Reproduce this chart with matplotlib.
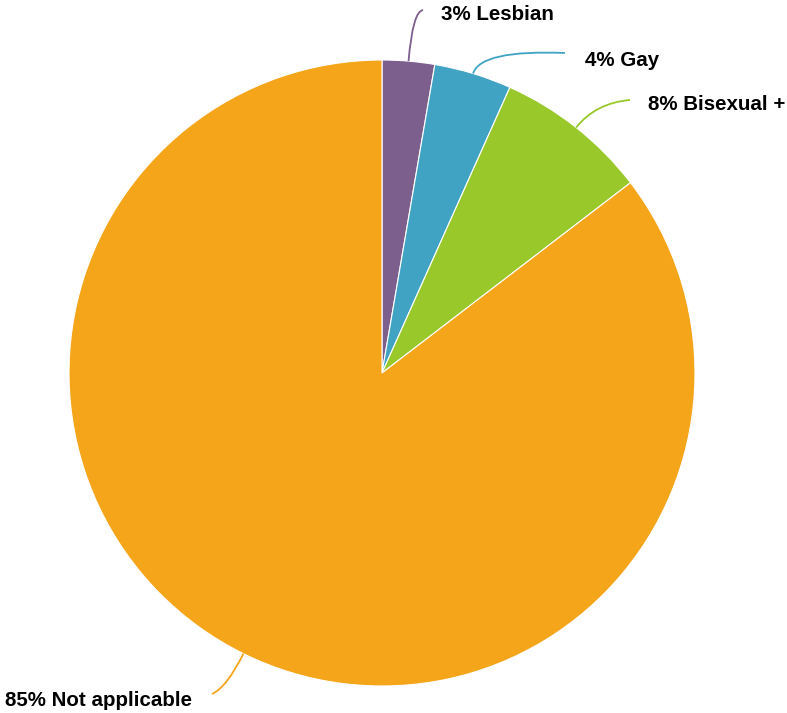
import numpy as np
import matplotlib.pyplot as plt
from matplotlib.path import Path
from matplotlib.patches import PathPatch

labels = ['Lesbian', 'Gay', 'Bisexual +', 'Not applicable']
values = [2.7, 4.0, 7.9, 85.4]
shown = ['3%', '4%', '8%', '85%']
colors = ['#7d5f8e', '#40a3c4', '#98c82a', '#f4a51a']

W, H = 787, 713
fig = plt.figure(figsize=(W / 100, H / 100), dpi=100)
ax = fig.add_axes([0, 0, 1, 1])

cx, cy, r = 382, H - 373, 313
wedges, _ = ax.pie(values, colors=colors, startangle=90, counterclock=False,
                   center=(cx, cy), radius=r, frame=True,
                   wedgeprops=dict(edgecolor='white', linewidth=0.8))
ax.set_xlim(0, W)
ax.set_ylim(0, H)
ax.set_aspect('equal')
ax.axis('off')

# leader line: radial factor for control point, end point (pixels), label anchor
leaders = [
    (1.16, (423, 10), (441, 15), 'left'),
    (1.08, (565, 53), (585, 60), 'left'),
    (1.10, (630, 100), (648, 105), 'left'),
    (1.12, (212, 694), (192, 700), 'right'),
]

for w, lab, pct, col, (k, end, txt, ha) in zip(wedges, labels, shown, colors, leaders):
    ang = np.deg2rad((w.theta1 + w.theta2) / 2)
    p0 = (cx + r * np.cos(ang), cy + r * np.sin(ang))
    p1 = (cx + k * r * np.cos(ang), cy + k * r * np.sin(ang))
    p2 = (end[0], H - end[1])
    path = Path([p0, p1, p2], [Path.MOVETO, Path.CURVE3, Path.CURVE3])
    ax.add_patch(PathPatch(path, facecolor='none', edgecolor=col, linewidth=1.3))
    ax.text(txt[0], H - txt[1], f'{pct} {lab}', ha=ha, va='center',
            fontsize=14.8, fontweight='bold', family=['Liberation Sans', 'DejaVu Sans'])

fig.savefig('out.png', dpi=100)
